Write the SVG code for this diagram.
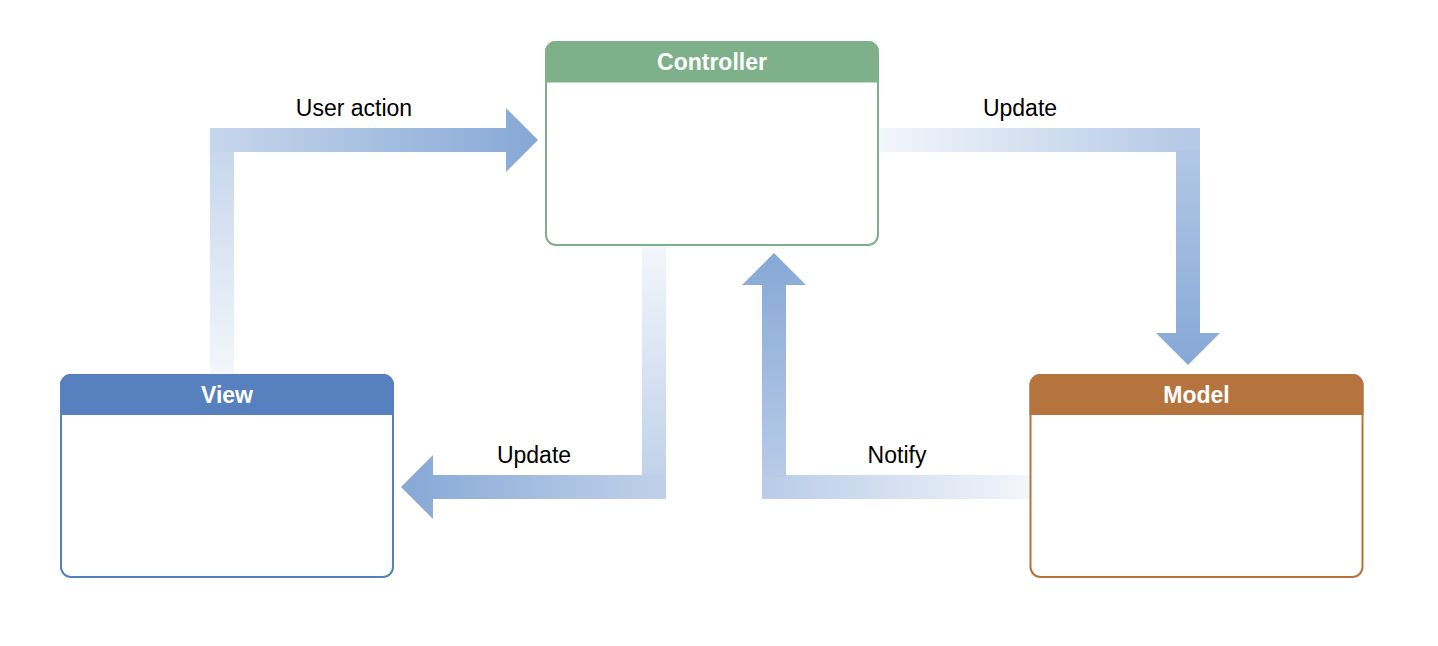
<svg xmlns="http://www.w3.org/2000/svg" width="1438" height="646" viewBox="0 0 1438 646">
  <style>
    .box { fill: #ffffff; stroke-width: 2; }
    .title { font-family: "Liberation Sans", Arial, Helvetica, sans-serif; font-weight: bold; font-size: 23px; fill: #ffffff; text-anchor: middle; }
    .label { font-family: "Liberation Sans", Arial, Helvetica, sans-serif; font-size: 23px; fill: #000000; text-anchor: middle; }
  </style>
  <defs>
    <!-- each connector fades from near-white at its source to full blue at its head -->
    <linearGradient id="ua-v" gradientUnits="userSpaceOnUse" x1="0" y1="374" x2="0" y2="140">
      <stop offset="0" stop-color="#f3f6fb"/>
      <stop offset="1" stop-color="#c5d5eb"/>
    </linearGradient>
    <linearGradient id="ua-h" gradientUnits="userSpaceOnUse" x1="222" y1="0" x2="538" y2="0">
      <stop offset="0" stop-color="#c5d5eb"/>
      <stop offset="1" stop-color="#86a8d6"/>
    </linearGradient>
    <linearGradient id="um-h" gradientUnits="userSpaceOnUse" x1="879" y1="0" x2="1188" y2="0">
      <stop offset="0" stop-color="#f3f6fb"/>
      <stop offset="1" stop-color="#b4c9e6"/>
    </linearGradient>
    <linearGradient id="um-v" gradientUnits="userSpaceOnUse" x1="0" y1="140" x2="0" y2="365">
      <stop offset="0" stop-color="#b4c9e6"/>
      <stop offset="1" stop-color="#86a8d6"/>
    </linearGradient>
    <linearGradient id="uv-v" gradientUnits="userSpaceOnUse" x1="0" y1="246" x2="0" y2="487">
      <stop offset="0" stop-color="#f3f6fb"/>
      <stop offset="1" stop-color="#bed0e9"/>
    </linearGradient>
    <linearGradient id="uv-h" gradientUnits="userSpaceOnUse" x1="654" y1="0" x2="401" y2="0">
      <stop offset="0" stop-color="#bed0e9"/>
      <stop offset="1" stop-color="#86a8d6"/>
    </linearGradient>
    <linearGradient id="nt-h" gradientUnits="userSpaceOnUse" x1="1030" y1="0" x2="774" y2="0">
      <stop offset="0" stop-color="#f3f6fb"/>
      <stop offset="1" stop-color="#bacde8"/>
    </linearGradient>
    <linearGradient id="nt-v" gradientUnits="userSpaceOnUse" x1="0" y1="487" x2="0" y2="253">
      <stop offset="0" stop-color="#bacde8"/>
      <stop offset="1" stop-color="#86a8d6"/>
    </linearGradient>
  </defs>

  <rect width="1438" height="646" fill="#ffffff"/>

  <g id="connectors">
    <!-- View -> Controller : User action -->
    <g id="edge-user-action">
      <rect x="210" y="150" width="24" height="228" fill="url(#ua-v)"/>
      <polygon points="210,128 506,128 506,108 538,140 506,172 506,152 210,152" fill="url(#ua-h)"/>
    </g>
    <!-- Controller -> Model : Update -->
    <g id="edge-update-model">
      <polygon points="876,128 1200,128 1200,152 876,152" fill="url(#um-h)"/>
      <polygon points="1176,150 1200,150 1200,333 1220,333 1188,365 1156,333 1176,333" fill="url(#um-v)"/>
    </g>
    <!-- Controller -> View : Update -->
    <g id="edge-update-view">
      <rect x="642" y="242" width="24" height="235" fill="url(#uv-v)"/>
      <polygon points="666,475 666,499 433,499 433,519 401,487 433,455 433,475" fill="url(#uv-h)"/>
    </g>
    <!-- Model -> Controller : Notify -->
    <g id="edge-notify">
      <polygon points="1034,475 1034,499 762,499 762,475" fill="url(#nt-h)"/>
      <polygon points="762,477 762,285 742,285 774,253 806,285 786,285 786,477" fill="url(#nt-v)"/>
    </g>
  </g>

  <g id="labels">
    <text class="label" x="354" y="116">User action</text>
    <text class="label" x="1020" y="116">Update</text>
    <text class="label" x="534" y="463">Update</text>
    <text class="label" x="897" y="463">Notify</text>
  </g>

  <g id="controller">
    <rect class="box" x="546" y="42" width="332" height="203" rx="10" stroke="#7eb18a"/>
    <path d="M545 82.5 V52 A11 11 0 0 1 556 41 H868 A11 11 0 0 1 879 52 V82.5 Z" fill="#7eb18a"/>
    <text class="title" x="712" y="70">Controller</text>
  </g>

  <g id="view">
    <rect class="box" x="61" y="375" width="332" height="202" rx="10" stroke="#5680be"/>
    <path d="M60 415 V385 A11 11 0 0 1 71 374 H383 A11 11 0 0 1 394 385 V415 Z" fill="#5680be"/>
    <text class="title" x="227" y="403">View</text>
  </g>

  <g id="model">
    <rect class="box" x="1030.5" y="375" width="332" height="202" rx="10" stroke="#b5743e"/>
    <path d="M1029.5 415 V385 A11 11 0 0 1 1040.5 374 H1352.5 A11 11 0 0 1 1363.5 385 V415 Z" fill="#b5743e"/>
    <text class="title" x="1196.5" y="403">Model</text>
  </g>
</svg>
